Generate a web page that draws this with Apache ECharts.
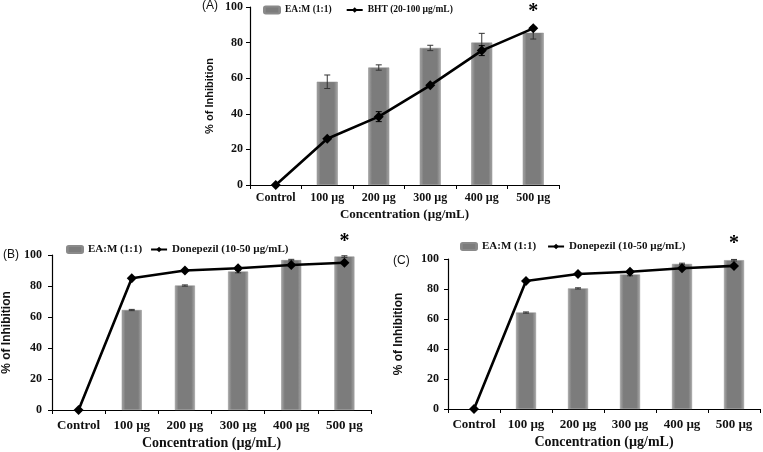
<!DOCTYPE html>
<html>
<head>
<meta charset="utf-8">
<script src="https://cdn.jsdelivr.net/npm/echarts@6/dist/echarts.min.js"></script>
<style>html,body{margin:0;padding:0;background:#fff}#c{width:763px;height:452px}</style>
</head>
<body>
<div id="c"></div>
<script>
const categories = ['Control', '100 µg', '200 µg', '300 µg', '400 µg', '500 µg'];
const yTicks = [0, 20, 40, 60, 80, 100];

// Panel A
const barA = [null, 58, 66, 77, 80, 85.5];
const barAErr = [null, 3.8, 1.5, 1.5, 5.2, 3.5];
const lineA = [0, 26, 38.4, 56, 75.5, 88];
const lineAErr = [null, null, 2.8, null, 2.8, null];
// Panel B
const barB = [null, 64.5, 80.3, 89.3, 96.7, 99];
const barBErr = [null, 0.4, 0.4, 0.8, 0.5, 0.5];
const lineB = [0, 85, 90, 91.5, 93.5, 95];
// Panel C
const barC = [null, 64.3, 80.4, 89.6, 96.7, 99.2];
const barCErr = [null, 0.4, 0.4, 0.8, 0.5, 0.5];
const lineC = [0, 85.3, 90, 91.5, 93.8, 95.4];

const barName = 'EA:M (1:1)';
const lineNameA = 'BHT (20-100 µg/mL)';
const lineNameBC = 'Donepezil (10-50 µg/mL)';

const serif = 'Liberation Serif';
const sans = 'Liberation Sans';

const barColor = {
  type: 'linear', x: 0, y: 0, x2: 1, y2: 0,
  colorStops: [
    {offset: 0, color: '#a8a8a8'},
    {offset: 0.18, color: '#7c7c7c'},
    {offset: 0.82, color: '#7c7c7c'},
    {offset: 1, color: '#a8a8a8'}
  ]
};

const grids = [
  {left: 250, top: 7, width: 309, height: 178},
  {left: 52, top: 255, width: 319, height: 155},
  {left: 448, top: 259, width: 312, height: 150}
];
const tickFont = [12, 12, 12];
const catFont = [12, 13, 13];
const xNameFont = [13, 14, 14];
const yNameFont = [11, 12, 12];
const yNameGap = [35, 39, 43];
const xNameGap = [23, 26, 26];
const yLabelMargin = [7, 10, 9];
const xLabelMargin = [7, 9, 9];

const xAxes = grids.map((g, i) => ({
  type: 'category', gridIndex: i, data: categories,
  boundaryGap: true,
  axisLine: {lineStyle: {color: '#000', width: 1.2}},
  axisTick: {show: true, length: 4, alignWithLabel: false, interval: 0, lineStyle: {color: '#000'}},
  axisLabel: {interval: 0, color: '#111', fontFamily: serif, fontWeight: 'bold', fontSize: catFont[i], margin: xLabelMargin[i]},
  name: 'Concentration (µg/mL)', nameLocation: 'middle', nameGap: xNameGap[i],
  nameTextStyle: {color: '#111', fontFamily: serif, fontWeight: 'bold', fontSize: xNameFont[i]}
}));
const yAxes = grids.map((g, i) => ({
  type: 'value', gridIndex: i, min: 0, max: 100, interval: 20,
  splitLine: {show: false},
  axisLine: {show: true, lineStyle: {color: '#000', width: 1.2}},
  axisTick: {show: true, length: 4, lineStyle: {color: '#000'}},
  axisLabel: {color: '#111', fontFamily: serif, fontWeight: 'bold', fontSize: tickFont[i], margin: yLabelMargin[i],
    formatter: v => yTicks.includes(v) ? String(v) : ''},
  name: '% of Inhibition', nameLocation: 'middle', nameGap: yNameGap[i], nameRotate: 90,
  nameTextStyle: {color: '#111', fontFamily: sans, fontWeight: 'bold', fontSize: yNameFont[i]}
}));

const starDist = [11, 5, 6];
function barData(arr, i) {
  return arr.map((v, k) => k === arr.length - 1 ? {
    value: v,
    label: {show: true, position: 'top', distance: starDist[i], formatter: '*',
      fontFamily: serif, fontWeight: 'bold', fontSize: 20, color: '#000'}
  } : v);
}
function errData(vals, errs) {
  const out = [];
  vals.forEach((v, k) => { if (v != null && errs[k] != null) out.push([k, v, errs[k]]); });
  return out;
}
function errSeries(i, vals, errs, color, z) {
  return {
    type: 'custom', xAxisIndex: i, yAxisIndex: i, z: z, silent: true,
    data: errData(vals, errs),
    renderItem: function (params, api) {
      const x = api.value(0), y = api.value(1), e = api.value(2);
      const top = api.coord([x, y + e]);
      const bot = api.coord([x, y - e]);
      const hw = 3;
      const st = {stroke: color, lineWidth: 1};
      return {type: 'group', children: [
        {type: 'line', shape: {x1: top[0], y1: top[1], x2: bot[0], y2: bot[1]}, style: st},
        {type: 'line', shape: {x1: top[0] - hw, y1: top[1], x2: top[0] + hw, y2: top[1]}, style: st},
        {type: 'line', shape: {x1: bot[0] - hw, y1: bot[1], x2: bot[0] + hw, y2: bot[1]}, style: st}
      ]};
    }
  };
}

const panels = [
  {bar: barA, barErr: barAErr, line: lineA, lineErr: lineAErr, lineName: lineNameA, bw: 21},
  {bar: barB, barErr: barBErr, line: lineB, lineErr: null, lineName: lineNameBC, bw: 20},
  {bar: barC, barErr: barCErr, line: lineC, lineErr: null, lineName: lineNameBC, bw: 20}
];

const series = [];
panels.forEach((p, i) => {
  series.push({
    type: 'bar', name: barName, xAxisIndex: i, yAxisIndex: i,
    data: barData(p.bar, i), barWidth: p.bw,
    itemStyle: {color: barColor, borderColor: '#8a8a8a', borderWidth: 0.5},
    z: 2
  });
  series.push(errSeries(i, p.bar, p.barErr, '#333', 3));
  series.push({
    type: 'line', name: p.lineName, xAxisIndex: i, yAxisIndex: i,
    data: p.line, symbol: 'diamond', symbolSize: 10,
    lineStyle: {color: '#000', width: 2.6}, itemStyle: {color: '#000'}, z: 4
  });
  if (p.lineErr) series.push(errSeries(i, p.line, p.lineErr, '#000', 5));
});

const legendCommon = {
  orient: 'horizontal', itemWidth: 16, itemHeight: 7, itemGap: 10, padding: 0,
  textStyle: {fontFamily: serif, fontWeight: 'bold', fontSize: 11, color: '#111'}
};
const legends = [
  Object.assign({}, legendCommon, {left: 263, top: 5, itemGap: 14,
    textStyle: {fontFamily: serif, fontWeight: 'bold', fontSize: 9.5, color: '#111'},
    data: [barName, lineNameA]}),
  Object.assign({}, legendCommon, {left: 66, top: 244, itemGap: 8, data: [barName, lineNameBC]}),
  Object.assign({}, legendCommon, {left: 460, top: 241, itemGap: 11, data: [barName, lineNameBC]})
];

const chart = echarts.init(document.getElementById('c'), null, {renderer: 'canvas'});
chart.setOption({
  backgroundColor: '#fff',
  animation: false,
  grid: grids,
  xAxis: xAxes,
  yAxis: yAxes,
  legend: legends,
  series: series,
  graphic: [
    {type: 'text', left: 202, top: 0, style: {text: '(A)', font: '12px "Liberation Sans"', fill: '#111'}},
    {type: 'text', left: 3, top: 249, style: {text: '(B)', font: '12px "Liberation Sans"', fill: '#111'}},
    {type: 'text', left: 393, top: 255, style: {text: '(C)', font: '12px "Liberation Sans"', fill: '#111'}}
  ]
});
</script>
</body>
</html>
